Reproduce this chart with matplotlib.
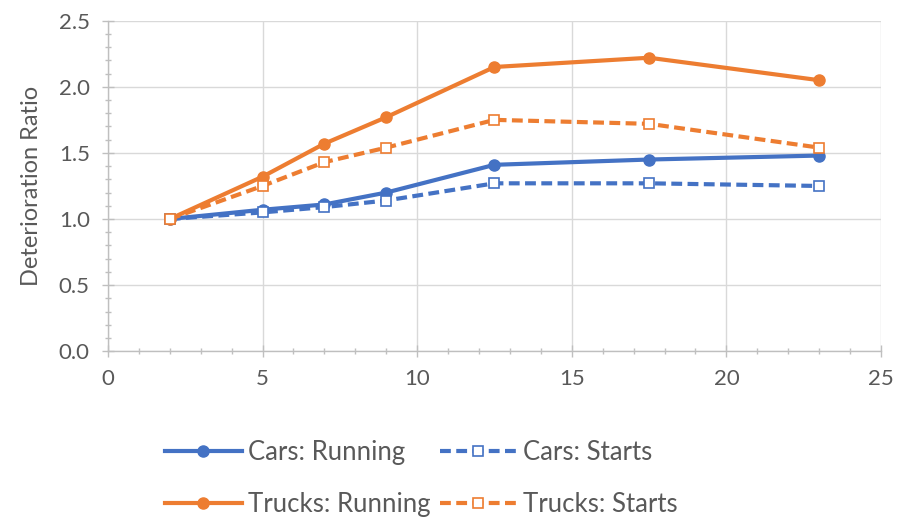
import matplotlib.pyplot as plt
from matplotlib.ticker import MultipleLocator

plt.rcParams['font.family'] = ['Lato', 'DejaVu Sans']

# age bins (years) and deterioration ratios per vehicle type / emission mode
age = [2, 5, 7, 9, 12.5, 17.5, 23]
cars_running = [1.0, 1.07, 1.11, 1.20, 1.41, 1.45, 1.48]
cars_starts = [1.0, 1.05, 1.09, 1.14, 1.27, 1.27, 1.25]
trucks_running = [1.0, 1.32, 1.57, 1.77, 2.15, 2.22, 2.05]
trucks_starts = [1.0, 1.25, 1.43, 1.54, 1.75, 1.72, 1.54]

blue = '#4472C4'
orange = '#ED7D31'
grey = '#595959'

fig = plt.figure(figsize=(8.99, 5.18), dpi=100)
ax = fig.add_axes([0.12, 0.322, 0.86, 0.638])

dash = (0, (2.6, 1.3))
l1, = ax.plot(age, cars_running, color=blue, lw=3, marker='o', ms=8,
              label='Cars: Running', zorder=3)
l2, = ax.plot(age, cars_starts, color=blue, lw=3, ls=dash, marker='s', ms=7.5,
              mfc='white', mew=1.2, label='Cars: Starts', zorder=3)
l3, = ax.plot(age, trucks_running, color=orange, lw=3, marker='o', ms=8,
              label='Trucks: Running', zorder=3)
l4, = ax.plot(age, trucks_starts, color=orange, lw=3, ls=dash, marker='s', ms=7.5,
              mfc='white', mew=1.2, label='Trucks: Starts', zorder=3)

ax.set_xlim(0, 25)
ax.set_ylim(0, 2.5)
ax.xaxis.set_major_locator(MultipleLocator(5))
ax.xaxis.set_minor_locator(MultipleLocator(1))
ax.yaxis.set_major_locator(MultipleLocator(0.5))
ax.yaxis.set_minor_locator(MultipleLocator(0.1))
ax.yaxis.set_major_formatter(lambda v, p: f'{v:.1f}')

ax.grid(True, which='major', color='#D9D9D9', lw=1)
ax.set_axisbelow(True)
for s in ['top', 'right']:
    ax.spines[s].set_visible(False)
for s in ['left', 'bottom']:
    ax.spines[s].set_color('#BFBFBF')
    ax.spines[s].set_linewidth(1)

ax.tick_params(which='both', direction='inout', color='#BFBFBF', labelcolor=grey,
               labelsize=16)
ax.tick_params(which='major', length=8, width=1, pad=9)
ax.tick_params(which='minor', length=5, width=1)

ax.set_ylabel('Deterioration Ratio', fontsize=17, color=grey, labelpad=12)

# legend rows: cars on top, trucks below (columns fill first)
fig.legend([l1, l3, l2, l4],
           ['Cars: Running', 'Trucks: Running', 'Cars: Starts', 'Trucks: Starts'],
           loc='upper left', bbox_to_anchor=(0.183, 0.15), ncol=2, frameon=False,
           fontsize=18.5, labelcolor=grey, handlelength=3.0, handletextpad=0.25,
           columnspacing=0.35, labelspacing=1.05, borderaxespad=0, borderpad=0)

fig.savefig('out.png', dpi=100)
